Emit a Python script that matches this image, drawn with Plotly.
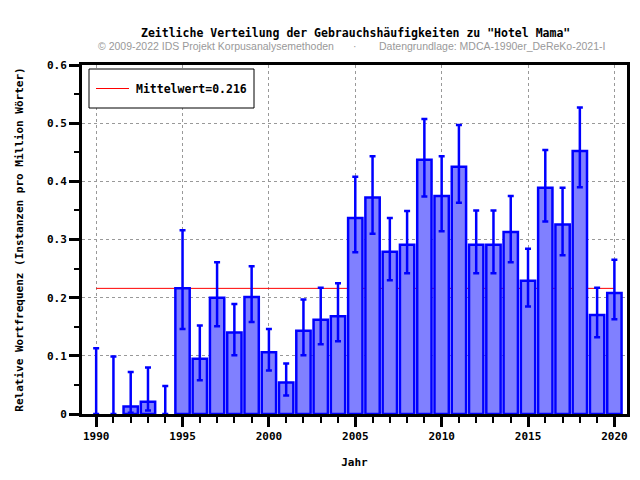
import plotly.graph_objects as go

# Werte
jahre = list(range(1990, 2021))
frequenz = [0.0, 0.0, 0.013, 0.021, 0.0, 0.216, 0.095, 0.200, 0.140, 0.201,
            0.106, 0.054, 0.143, 0.162, 0.168, 0.337, 0.372, 0.279, 0.291, 0.437,
            0.375, 0.425, 0.291, 0.291, 0.313, 0.229, 0.389, 0.326, 0.452, 0.170,
            0.208]
fehler_oben = [0.113, 0.099, 0.072, 0.080, 0.048, 0.316, 0.152, 0.261, 0.189, 0.254,
               0.146, 0.087, 0.197, 0.217, 0.225, 0.408, 0.443, 0.337, 0.349, 0.507,
               0.443, 0.497, 0.350, 0.350, 0.375, 0.284, 0.454, 0.389, 0.527, 0.217,
               0.265]
fehler_unten = [0.0, 0.0, 0.002, 0.006, 0.0, 0.146, 0.058, 0.151, 0.101, 0.158,
                0.075, 0.032, 0.101, 0.120, 0.125, 0.278, 0.310, 0.230, 0.242, 0.374,
                0.314, 0.363, 0.242, 0.242, 0.261, 0.185, 0.331, 0.273, 0.390, 0.132,
                0.163]
mittelwert = 0.216
x_ticks = [1990, 1995, 2000, 2005, 2010, 2015, 2020]
y_ticks = [0, 0.1, 0.2, 0.3, 0.4, 0.5, 0.6]

MONO = "DejaVu Sans Mono"
plus = [o - v for o, v in zip(fehler_oben, frequenz)]
minus = [v - u for v, u in zip(frequenz, fehler_unten)]
# no outline for empty years, otherwise a stub shows on the baseline
rand = [2.5 if v > 0 else 0 for v in frequenz]

# the page has an 8px body margin, so the figure is a bit smaller than the window
W, H = 632, 472
L, T, R, B = 74, 57, 13, 66
pw, ph = W - L - R, H - T - B


def px(x):  # page pixel -> paper x
    return (x - 8 - L) / pw


def py(y):  # page pixel -> paper y
    return (H - B - (y - 8)) / ph


fig = go.Figure()

fig.add_trace(go.Bar(
    x=jahre, y=frequenz, width=0.83,
    marker=dict(color="#8080ff", line=dict(color="#0000ff", width=rand)),
    error_y=dict(type="data", array=plus, arrayminus=minus,
                 color="#0000ff", thickness=2.5, width=3),
    showlegend=False,
))

# Mittelwert-Linie hinter den Balken
fig.add_shape(type="line", x0=jahre[0], x1=jahre[-1], y0=mittelwert, y1=mittelwert,
              xref="x", yref="y", layer="between",
              line=dict(color="#ff0000", width=1))

# Legendenkasten
fig.add_shape(type="rect", xref="paper", yref="paper",
              x0=px(89), x1=px(254), y0=py(108), y1=py(69),
              line=dict(color="black", width=1), fillcolor="white", layer="above")
fig.add_shape(type="line", xref="paper", yref="paper",
              x0=px(96), x1=px(129), y0=py(88.5), y1=py(88.5),
              line=dict(color="#ff0000", width=1), layer="above")
fig.add_annotation(text=f"Mittelwert={mittelwert}", xref="paper", yref="paper",
                   x=px(134), y=py(88.5), xanchor="left", yanchor="middle",
                   showarrow=False, font=dict(family=MONO, size=11.5, weight="bold"))

fig.add_annotation(text='Zeitliche Verteilung der Gebrauchshäufigkeiten zu "Hotel Mama"',
                   xref="paper", yref="paper", x=px(355), y=py(33),
                   xanchor="center", yanchor="middle",
                   showarrow=False, font=dict(family=MONO, size=11.5, weight="bold"))
grau = dict(family="Liberation Sans", size=10.5, color="#999999", weight="normal")
fig.add_annotation(text="© 2009-2022 IDS Projekt Korpusanalysemethoden",
                   xref="paper", yref="paper", x=px(96), y=py(46),
                   xanchor="left", yanchor="middle", showarrow=False, font=grau)
fig.add_annotation(text="·", xref="paper", yref="paper", x=px(355), y=py(46),
                   xanchor="center", yanchor="middle", showarrow=False, font=grau)
fig.add_annotation(text="Datengrundlage: MDCA-1990er_DeReKo-2021-I",
                   xref="paper", yref="paper", x=px(377), y=py(46),
                   xanchor="left", yanchor="middle", showarrow=False, font=grau)

fig.update_layout(
    width=W, height=H,
    margin=dict(l=L, r=R, t=T, b=B),
    plot_bgcolor="white", paper_bgcolor="white",
    font=dict(family=MONO, size=11, color="black", weight="bold"),
    showlegend=False,
)

fig.update_xaxes(
    range=[1989.18, 2020.73], tickvals=x_ticks, automargin=False,
    showline=True, linecolor="black", linewidth=3, mirror=True,
    ticks="outside", ticklen=10, tickwidth=2.5, tickcolor="black",
    minor=dict(dtick=1, tick0=1990, ticks="outside", ticklen=6, tickwidth=2,
               tickcolor="black", showgrid=False),
    showgrid=True, gridcolor="#999999", griddash="dot", gridwidth=1,
    zeroline=False,
    title=dict(text="Jahr", standoff=17, font=dict(family=MONO, size=11, weight="bold")),
)
fig.update_yaxes(
    range=[0, 0.6], tickvals=y_ticks, ticktext=[str(v) for v in y_ticks], automargin=False,
    showline=True, linecolor="black", linewidth=3, mirror=True,
    ticks="outside", ticklen=10, tickwidth=2.5, tickcolor="black",
    minor=dict(dtick=0.05, tick0=0, ticks="outside", ticklen=5, tickwidth=2,
               tickcolor="black", showgrid=False),
    showgrid=True, gridcolor="#999999", griddash="dot", gridwidth=1,
    zeroline=False,
    title=dict(text="Relative Wortfrequenz (Instanzen pro Million Wörter)", standoff=22,
               font=dict(family=MONO, size=11, weight="bold")),
)

fig.write_html("out.html")
